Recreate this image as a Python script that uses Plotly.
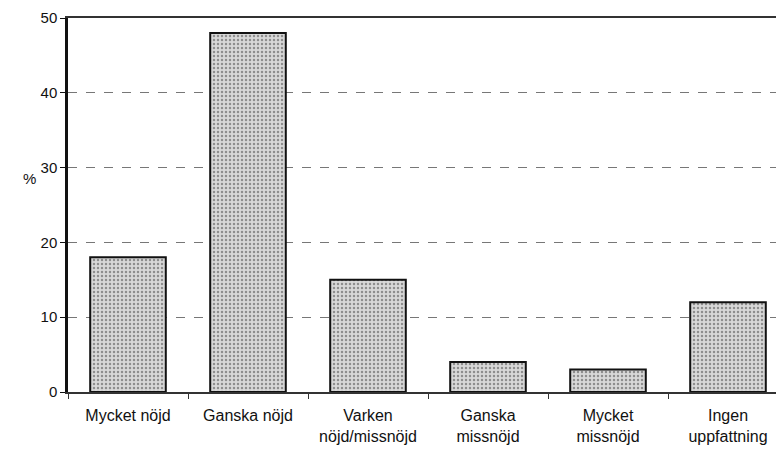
import plotly.graph_objects as go

categories = ["Mycket nöjd", "Ganska nöjd", "Varken<br>nöjd/missnöjd",
              "Ganska<br>missnöjd", "Mycket<br>missnöjd", "Ingen<br>uppfattning"]
values = [18, 48, 15, 4, 3, 12]
y_ticks = [0, 10, 20, 30, 40, 50]

fig = go.Figure(go.Bar(
    x=categories, y=values, width=0.63,
    marker=dict(color="#d0d0d0",
                line=dict(color="#111111", width=2),
                pattern=dict(shape=".", fgcolor="#444444", bgcolor="#d8d8d8",
                             size=4, solidity=0.3)),
))

# page has an 8px body margin, so margins are offset accordingly
fig.update_layout(
    width=784, height=452,
    margin=dict(l=60, r=4, t=10, b=68),
    paper_bgcolor="white", plot_bgcolor="white",
    font=dict(family="Liberation Sans, Arial, sans-serif", size=15, color="#111"),
    showlegend=False,
    annotations=[dict(text="%", xref="paper", yref="paper", x=-0.053, y=0.572,
                      xanchor="center", yanchor="middle", showarrow=False,
                      font=dict(size=15))],
)
fig.update_xaxes(
    type="category", range=[-0.5, 5.5], automargin=False,
    showline=True, linecolor="#333", linewidth=1.5, mirror=True,
    ticks="outside", tickson="boundaries", ticklen=5, tickcolor="#333",
    ticklabelstandoff=8,
    showgrid=False, tickfont=dict(size=16),
)
fig.update_yaxes(
    range=[0, 50], tickvals=y_ticks, automargin=False,
    showline=True, linecolor="#111", linewidth=2.5,
    ticks="outside", ticklen=5, tickcolor="#111",
    showgrid=True, gridcolor="#777", griddash="dash", gridwidth=1,
    zeroline=False, tickfont=dict(size=15),
)
fig.write_html("out.html")
